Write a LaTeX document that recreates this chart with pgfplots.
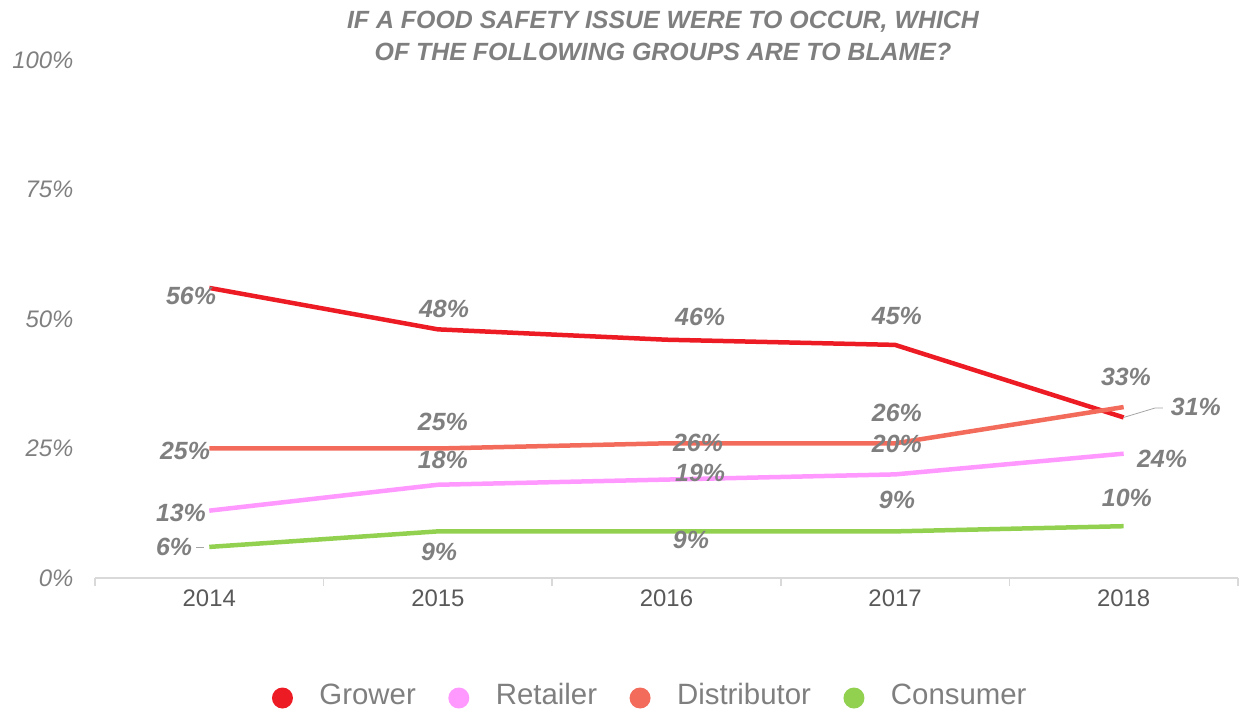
\documentclass[border=0pt]{standalone}
\usepackage{pgfplots}
\pgfplotsset{compat=1.18}
\usepackage{fontspec}
\setmainfont{Liberation Sans}
\definecolor{cGrower}{HTML}{ED1C24}
\definecolor{cRetailer}{HTML}{FF99FF}
\definecolor{cDistributor}{HTML}{F26B5B}
\definecolor{cConsumer}{HTML}{92D050}
\definecolor{lblgray}{HTML}{7F7F7F}
\definecolor{tickgray}{HTML}{595959}
\definecolor{axisgray}{HTML}{D9D9D9}
\pgfplotsset{dotlegend/.style={legend image code/.code={\fill[draw=none] (0bp,-3bp) circle (10.5bp); \path[draw=none,fill=none] (-11bp,0bp) -- (35bp,0bp);}}}
\begin{document}
\begin{tikzpicture}
\path[use as bounding box] (0bp,0bp) rectangle (1243bp,709bp);
\node[font=\fontsize{25}{32}\selectfont\bfseries\itshape, text=lblgray, align=center] at (663bp,673bp) {IF A FOOD SAFETY ISSUE WERE TO OCCUR, WHICH\\OF THE FOLLOWING GROUPS ARE TO BLAME?};
\begin{axis}[
  at={(95bp,131bp)}, anchor=south west,
  scale only axis, width=1143bp, height=518bp,
  xmin=-0.5, xmax=4.5, ymin=0, ymax=100,
  clip=false,
  axis x line*=bottom, axis y line*=left,
  y axis line style={draw=none},
  x axis line style={axisgray, line width=1.5bp},
  xtick={-0.5,0.5,1.5,2.5,3.5,4.5},
  xticklabels={2014,2015,2016,2017,2018},
  x tick label as interval,
  tick align=outside,
  major tick length=8bp,
  xtick style={axisgray, line width=1.5bp},
  ytick style={draw=none},
  ytick={0,25,50,75,100},
  yticklabels={0\%,25\%,50\%,75\%,100\%},
  xticklabel style={font=\fontsize{24}{24}\selectfont, text=tickgray},
  yticklabel style={font=\itshape\fontsize{24}{24}\selectfont, text=lblgray, xshift=-10bp},
  legend style={at={(0.4856,-0.226)}, anchor=center, draw=none, fill=none,
    legend columns=4, font=\fontsize{29.5}{29.5}\selectfont, text=lblgray,
    /tikz/every even column/.append style={column sep=30bp}},
]
\addplot[cGrower, line width=4.5bp, dotlegend] coordinates {(0,56)(1,48)(2,46)(3,45)(4,31)};
\addlegendentry{Grower}
\addplot[cRetailer, line width=4.5bp, dotlegend] coordinates {(0,13)(1,18)(2,19)(3,20)(4,24)};
\addlegendentry{Retailer}
\addplot[cDistributor, line width=4.5bp, dotlegend] coordinates {(0,25)(1,25)(2,26)(3,26)(4,33)};
\addlegendentry{Distributor}
\addplot[cConsumer, line width=4.5bp, dotlegend] coordinates {(0,6)(1,9)(2,9)(3,9)(4,10)};
\addlegendentry{Consumer}

\draw[lblgray!70, line width=0.8bp] (axis cs:4,31) -- (axis cs:4.136,32.8) -- (axis cs:4.171,32.8);
\draw[lblgray!70, line width=0.8bp] (axis cs:-0.057,6) -- (axis cs:-0.022,6);

\tikzset{lbl/.style={font=\bfseries\itshape\fontsize{25}{25}\selectfont, text=lblgray, inner sep=0pt}}
% Grower
\node[lbl] at (axis cs:-0.080,54.4) {56\%};
\node[lbl] at (axis cs:1.027,51.9) {48\%};
\node[lbl] at (axis cs:2.147,50.4) {46\%};
\node[lbl] at (axis cs:3.008,50.6) {45\%};
\node[lbl] at (axis cs:4.316,33.0) {31\%};
% Distributor
\node[lbl] at (axis cs:-0.106,24.5) {25\%};
\node[lbl] at (axis cs:1.022,30.1) {25\%};
\node[lbl] at (axis cs:2.138,26.1) {26\%};
\node[lbl] at (axis cs:3.008,31.9) {26\%};
\node[lbl] at (axis cs:4.010,38.8) {33\%};
% Retailer
\node[lbl] at (axis cs:-0.124,12.5) {13\%};
\node[lbl] at (axis cs:1.022,22.8) {18\%};
\node[lbl] at (axis cs:2.147,20.3) {19\%};
\node[lbl] at (axis cs:3.008,25.9) {20\%};
\node[lbl] at (axis cs:4.168,23.0) {24\%};
% Consumer
\node[lbl] at (axis cs:-0.154,6.0) {6\%};
\node[lbl] at (axis cs:1.005,5.0) {9\%};
\node[lbl] at (axis cs:2.107,7.3) {9\%};
\node[lbl] at (axis cs:3.008,15.1) {9\%};
\node[lbl] at (axis cs:4.014,15.4) {10\%};
\end{axis}
\end{tikzpicture}
\end{document}
